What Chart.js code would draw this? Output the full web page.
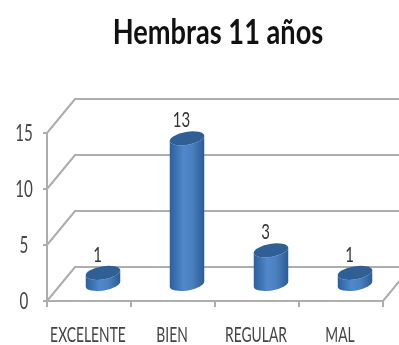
<!DOCTYPE html>
<html>
<head>
<meta charset="utf-8">
<script src="https://cdn.jsdelivr.net/npm/chart.js@4"></script>
<style>
  html, body { margin: 0; padding: 0; background: #fff; }
  #wrap { width: 399px; height: 345px; overflow: hidden; }
  canvas { display: block; filter: blur(0.6px); }
</style>
</head>
<body>
<div id="wrap"><canvas id="chart" width="399" height="345"></canvas></div>
<script>
const categories = ["EXCELENTE", "BIEN", "REGULAR", "MAL"];
const values = [1, 13, 3, 1];
const yTicks = [0, 5, 10, 15];
const titleText = "Hembras 11 años";

const fontFamily = 'Lato, "Liberation Sans", sans-serif';
const gridColor = "#adadad";
const depthX = 28, depthY = 34; // how far the back wall sits from the front plane

// no narrow font installed, so squeeze the text with fillText's maxWidth
function narrowText(ctx, text, x, y, font, squeeze, color) {
  ctx.font = font;
  ctx.fillStyle = color;
  ctx.textAlign = "center";
  ctx.textBaseline = "middle";
  ctx.fillText(text, x, y, ctx.measureText(text).width * squeeze);
}

// the fake 3d box behind the bars
const wallPlugin = {
  id: "wall",
  beforeDatasetsDraw(chart) {
    const { ctx, scales: { x, y } } = chart;
    ctx.save();
    ctx.strokeStyle = gridColor;
    ctx.lineWidth = 2;
    yTicks.forEach(t => {
      const py = y.getPixelForValue(t);
      ctx.beginPath();
      ctx.moveTo(x.left, py);
      ctx.lineTo(x.left + depthX, py - depthY);
      ctx.lineTo(x.right + depthX, py - depthY);
      ctx.stroke();
    });
    const py0 = y.getPixelForValue(0);
    ctx.beginPath();
    ctx.moveTo(x.right, py0);
    ctx.lineTo(x.right + depthX, py0 - depthY);
    ctx.stroke();
    ctx.restore();
  }
};

// cylinders sit halfway into the box, on top of the (transparent) real bars
const cylinderPlugin = {
  id: "cylinders",
  afterDatasetsDraw(chart) {
    const { ctx, scales: { x, y } } = chart;
    const rx = 17.5, ry = 6.5, tilt = -0.17;
    ctx.save();
    values.forEach((v, i) => {
      const cx = x.getPixelForValue(i) + depthX / 2;
      const top = y.getPixelForValue(v) - depthY / 2;
      const bottom = y.getPixelForValue(0) - depthY / 2;
      const grad = ctx.createLinearGradient(cx - rx, 0, cx + rx, 0);
      grad.addColorStop(0, "#2c5e9a");
      grad.addColorStop(0.4, "#4f88cb");
      grad.addColorStop(0.65, "#4a80c0");
      grad.addColorStop(1, "#2a5a94");
      ctx.fillStyle = grad;
      ctx.beginPath();
      ctx.ellipse(cx, bottom, rx, ry, tilt, 0, Math.PI);
      ctx.ellipse(cx, top, rx, ry, tilt, Math.PI, 0, true);
      ctx.closePath();
      ctx.fill();
      ctx.fillStyle = "#2f5f95";
      ctx.beginPath();
      ctx.ellipse(cx, top, rx, ry, tilt, 0, Math.PI * 2);
      ctx.fill();
      narrowText(ctx, String(v), cx - 5.5, top - 18, "22px " + fontFamily, 0.68, "#333");
    });
    ctx.restore();
  }
};

// title and axis labels, placed from the scales
const labelPlugin = {
  id: "labels",
  afterDraw(chart) {
    const { ctx, scales: { x, y } } = chart;
    ctx.save();
    narrowText(ctx, titleText, 218, 33, "bold 34px " + fontFamily, 0.8, "#111");
    yTicks.forEach(t => {
      narrowText(ctx, String(t), 24, y.getPixelForValue(t) + 1, "23px " + fontFamily, 0.66, "#444");
    });
    categories.forEach((c, i) => {
      narrowText(ctx, c, x.getPixelForValue(i) - 1, 335, "21px " + fontFamily, 0.66, "#444");
    });
    ctx.restore();
  }
};

new Chart(document.getElementById("chart"), {
  type: "bar",
  data: {
    labels: categories,
    datasets: [{ data: values, backgroundColor: "transparent", borderWidth: 0 }]
  },
  options: {
    responsive: false,
    animation: false,
    layout: { padding: { top: 133, right: 16, bottom: 0, left: 0 } },
    plugins: {
      legend: { display: false },
      tooltip: { enabled: false }
    },
    scales: {
      x: {
        afterFit(scale) { scale.height = 44; },
        border: { color: gridColor, width: 2 },
        grid: { drawOnChartArea: false, color: gridColor, lineWidth: 2, tickLength: 6 },
        ticks: { display: false }
      },
      y: {
        min: 0,
        max: 15,
        afterFit(scale) { scale.width = 47; },
        afterBuildTicks(scale) { scale.ticks = yTicks.map(value => ({ value })); },
        border: { color: gridColor, width: 2 },
        grid: { drawOnChartArea: false, color: gridColor, lineWidth: 2, tickLength: 4 },
        ticks: { display: false }
      }
    }
  },
  plugins: [wallPlugin, cylinderPlugin, labelPlugin]
});
</script>
</body>
</html>
